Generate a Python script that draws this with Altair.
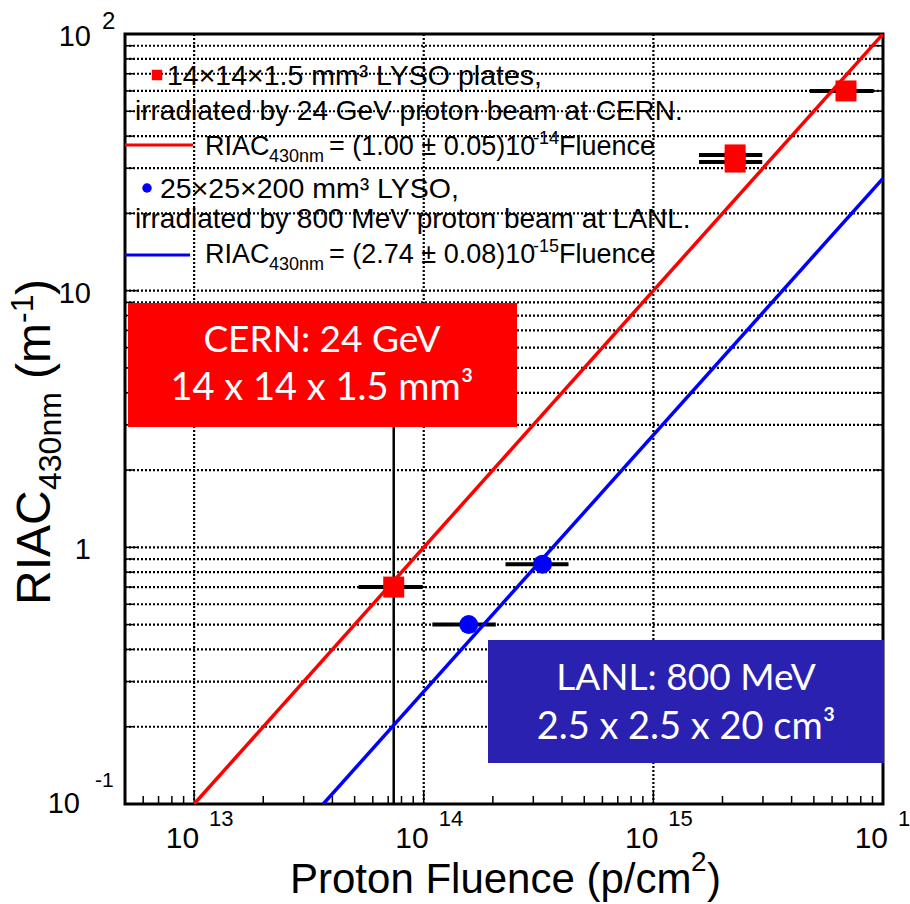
import altair as alt
import pandas as pd

# ---------------- data ----------------
# CERN, 24 GeV protons, 14x14x1.5 mm3 LYSO plates
cern_fluence = [7.4e13, 2.27e15, 2.27e15, 6.9e15]
cern_riac = [0.70, 33.8, 31.7, 60.0]
cern_fluence_lo = [5.2e13, 1.58e15, 1.58e15, 4.8e15]
cern_fluence_hi = [9.9e13, 2.98e15, 2.98e15, 9.1e15]
cern_riac_lo = [0.1, 33.8, 31.7, 60.0]
cern_riac_hi = [3.2, 33.8, 31.7, 60.0]

# LANL, 800 MeV protons, 25x25x200 mm3 LYSO
lanl_fluence = [1.57e14, 3.29e14]
lanl_riac = [0.50, 0.86]
lanl_fluence_lo = [1.09e14, 2.27e14]
lanl_fluence_hi = [2.06e14, 4.27e14]

# fit lines (RIAC = k * fluence)
fit_cern_fluence = [1e13, 1e16]
fit_cern_riac = [0.1, 100]
fit_lanl_fluence = [3.65e13, 1e16]
fit_lanl_riac = [0.1, 27.4]

# axis tick values
x_major = [1e13, 1e14, 1e15]
x_minor = [6e12, 7e12, 8e12, 9e12,
           2e13, 3e13, 4e13, 5e13, 6e13, 7e13, 8e13, 9e13,
           2e14, 3e14, 4e14, 5e14, 6e14, 7e14, 8e14, 9e14,
           2e15, 3e15, 4e15, 5e15, 6e15, 7e15, 8e15, 9e15]
y_major = [0.1, 1, 10, 100]
y_minor = [0.2, 0.3, 0.4, 0.5, 0.6, 0.7, 0.8, 0.9,
           2, 3, 4, 5, 6, 7, 8, 9,
           20, 30, 40, 50, 60, 70, 80, 90]
y_grid = sorted(y_major + y_minor)

x_label_vals = [1e13, 1e14, 1e15, 1e16]
x_label_exp = ["13", "14", "15", "16"]

W, H = 758, 770
FONT = "Liberation Sans"
BOXFONT = "Lato"
RED = "#ff0000"
BLUE = "#0000ff"
BOXBLUE = "#2b21b0"

xs = alt.Scale(type="log", domain=[5e12, 1e16], nice=False)
ys = alt.Scale(type="log", domain=[0.1, 100], nice=False)

cern = pd.DataFrame({"f": cern_fluence, "r": cern_riac, "flo": cern_fluence_lo,
                     "fhi": cern_fluence_hi, "rlo": cern_riac_lo, "rhi": cern_riac_hi})
lanl = pd.DataFrame({"f": lanl_fluence, "r": lanl_riac, "flo": lanl_fluence_lo,
                     "fhi": lanl_fluence_hi})
fit_c = pd.DataFrame({"f": fit_cern_fluence, "r": fit_cern_riac})
fit_l = pd.DataFrame({"f": fit_lanl_fluence, "r": fit_lanl_riac})

one = pd.DataFrame({"a": [0]})


def X(field):
    return alt.X(field, scale=xs, axis=None)


def Y(field):
    return alt.Y(field, scale=ys, axis=None)


def label(text, x, y, size, font=FONT, align="left", baseline="alphabetic",
          color="black", angle=0):
    return alt.Chart(pd.DataFrame({"t": [text]})).mark_text(
        align=align, baseline=baseline, fontSize=size, font=font,
        color=color, angle=angle
    ).encode(text="t:N", x=alt.value(x), y=alt.value(y))


# ---- dotted grid ----
hgrid = alt.Chart(pd.DataFrame({"v": y_grid})).mark_rule(
    color="black", strokeWidth=2.2, strokeDash=[2, 2]).encode(
    y=Y("v:Q"), x=alt.value(0), x2=alt.value(W))
vgrid = alt.Chart(pd.DataFrame({"v": x_major})).mark_rule(
    color="black", strokeWidth=2.2, strokeDash=[2, 2]).encode(
    x=X("v:Q"), y=alt.value(0), y2=alt.value(H))


# ---- inward ticks ----
def yticks(vals, length, side):
    df = pd.DataFrame({"v": vals})
    x0 = 0 if side == "left" else W
    x1 = length if side == "left" else W - length
    return alt.Chart(df).mark_rule(color="black", strokeWidth=1.5).encode(
        y=Y("v:Q"), x=alt.value(x0), x2=alt.value(x1))


def xticks(vals, length, side):
    df = pd.DataFrame({"v": vals})
    y0 = H if side == "bottom" else 0
    y1 = H - length if side == "bottom" else length
    return alt.Chart(df).mark_rule(color="black", strokeWidth=1.5).encode(
        x=X("v:Q"), y=alt.value(y0), y2=alt.value(y1))


ticks = [yticks(y_minor, 8, "left"), yticks(y_major, 14, "left"),
         yticks(y_minor, 8, "right"), yticks(y_major, 14, "right"),
         xticks(x_minor, 8, "bottom"), xticks(x_major, 14, "bottom")]

# ---- data marks ----
vert_err = alt.Chart(cern).mark_rule(color="black", strokeWidth=2.5).encode(
    x=X("f:Q"), y=Y("rlo:Q"), y2="rhi:Q")
hor_err_c = alt.Chart(cern).mark_rule(color="black", strokeWidth=4).encode(
    x=X("flo:Q"), x2="fhi:Q", y=Y("r:Q"))
hor_err_l = alt.Chart(lanl).mark_rule(color="black", strokeWidth=4).encode(
    x=X("flo:Q"), x2="fhi:Q", y=Y("r:Q"))

line_c = alt.Chart(fit_c).mark_line(color=RED, strokeWidth=3.5, clip=True).encode(
    x=X("f:Q"), y=Y("r:Q"))
line_l = alt.Chart(fit_l).mark_line(color=BLUE, strokeWidth=3.5, clip=True).encode(
    x=X("f:Q"), y=Y("r:Q"))

pts_c = alt.Chart(cern).mark_point(shape="square", filled=True, size=440,
                                   color=RED, opacity=1).encode(x=X("f:Q"), y=Y("r:Q"))
pts_l = alt.Chart(lanl).mark_point(shape="circle", filled=True, size=360,
                                   color=BLUE, opacity=1).encode(x=X("f:Q"), y=Y("r:Q"))

# ---- tick labels (ROOT style 10^n) ----
ylab_a = alt.Chart(pd.DataFrame({"v": [100, 10, 1], "t": ["10", "10", "1"]})).mark_text(
    align="right", baseline="middle", fontSize=29, font=FONT, dy=3
).encode(y=Y("v:Q"), x=alt.value(-34), text="t:N")
ylab_b = alt.Chart(pd.DataFrame({"v": [0.1], "t": ["10"]})).mark_text(
    align="right", baseline="middle", fontSize=29, font=FONT, dy=0
).encode(y=Y("v:Q"), x=alt.value(-45), text="t:N")
yexp_a = alt.Chart(pd.DataFrame({"v": [100], "t": ["2"]})).mark_text(
    align="left", baseline="middle", fontSize=24, font=FONT, dy=-12
).encode(y=Y("v:Q"), x=alt.value(-23), text="t:N")
yexp_b = alt.Chart(pd.DataFrame({"v": [0.1], "t": ["-1"]})).mark_text(
    align="left", baseline="middle", fontSize=21, font=FONT, dy=-23
).encode(y=Y("v:Q"), x=alt.value(-30), text="t:N")

xlab = alt.Chart(pd.DataFrame({"v": x_label_vals, "t": ["10"] * 4})).mark_text(
    align="right", baseline="middle", fontSize=30, font=FONT, dx=5
).encode(x=X("v:Q"), y=alt.value(805), text="t:N")
xexp = alt.Chart(pd.DataFrame({"v": x_label_vals, "t": x_label_exp})).mark_text(
    align="left", baseline="middle", fontSize=22, font=FONT, dx=15
).encode(x=X("v:Q"), y=alt.value(785), text="t:N")

# ---- axis titles ----
xtitle = [label("Proton Fluence (p/cm", 165, 859, 42),
          label("2", 566, 837, 28),
          label(")", 582, 859, 42)]
ytitle = [label("RIAC", -75, 571, 48, angle=270),
          label("430nm", -64, 456, 32, angle=270),
          label("(m", -75, 345, 48, angle=270),
          label("-1", -92, 289, 32, angle=270),
          label(")", -75, 261, 48, angle=270)]

# ---- legend ----
leg_sq = alt.Chart(one).mark_point(shape="square", filled=True, size=110, color=RED,
                                   opacity=1).encode(x=alt.value(32), y=alt.value(41))
leg_dot = alt.Chart(one).mark_point(shape="circle", filled=True, size=90, color=BLUE,
                                    opacity=1).encode(x=alt.value(22), y=alt.value(154))
leg_rl = alt.Chart(one).mark_rule(color=RED, strokeWidth=3).encode(
    x=alt.value(0), x2=alt.value(68), y=alt.value(111))
leg_bl = alt.Chart(one).mark_rule(color=BLUE, strokeWidth=3).encode(
    x=alt.value(0), x2=alt.value(65), y=alt.value(221))


def formula(coef, exp, base_y):
    return [label("RIAC", 80, base_y, 27),
            label("430nm", 144, base_y + 7, 18),
            label(" = (" + coef + ")10", 204, base_y, 27),
            label(exp, 408, base_y - 11, 18),
            label("Fluence", 434, base_y, 27)]


legend = [leg_sq, leg_dot, leg_rl, leg_bl,
          label("14×14×1.5 mm³ LYSO plates,", 42, 51, 28.5),
          label("irradiated by 24 GeV proton beam at CERN.", 10, 86, 28),
          label("25×25×200 mm³ LYSO,", 35, 164, 28.5),
          label("irradiated by 800 MeV proton beam at LANL.", 10, 194, 28)] \
    + formula("1.00 ± 0.05", "-14", 121) + formula("2.74 ± 0.08", "-15", 229)

# ---- annotation boxes ----
box_r = alt.Chart(one).mark_rect(color=RED, opacity=1).encode(
    x=alt.value(3), x2=alt.value(392), y=alt.value(269), y2=alt.value(393))
box_b = alt.Chart(one).mark_rect(color=BOXBLUE, opacity=1).encode(
    x=alt.value(363), x2=alt.value(759), y=alt.value(606), y2=alt.value(729))
boxes = [box_r, box_b,
         label("CERN: 24 GeV", 197, 307, 37, font=BOXFONT, align="center",
               baseline="middle", color="white"),
         label("14 x 14 x 1.5 mm³", 197, 355, 38, font=BOXFONT, align="center",
               baseline="middle", color="white"),
         label("LANL: 800 MeV", 561, 645, 37, font=BOXFONT, align="center",
               baseline="middle", color="white"),
         label("2.5 x 2.5 x 20 cm³", 561, 694, 38, font=BOXFONT, align="center",
               baseline="middle", color="white")]

chart = alt.layer(
    hgrid, vgrid, *ticks, vert_err, hor_err_c, hor_err_l, line_c, line_l, pts_c, pts_l,
    ylab_a, ylab_b, yexp_a, yexp_b, xlab, xexp, *xtitle, *ytitle,
    *legend, *boxes
).properties(
    width=W, height=H,
    autosize=alt.AutoSizeParams(type="none"),
    padding={"left": 125, "top": 34, "right": 27, "bottom": 100},
    background="white",
).configure_view(stroke="black", strokeWidth=3)

chart.save("out.html", embed_options={"renderer": "svg", "actions": False})
